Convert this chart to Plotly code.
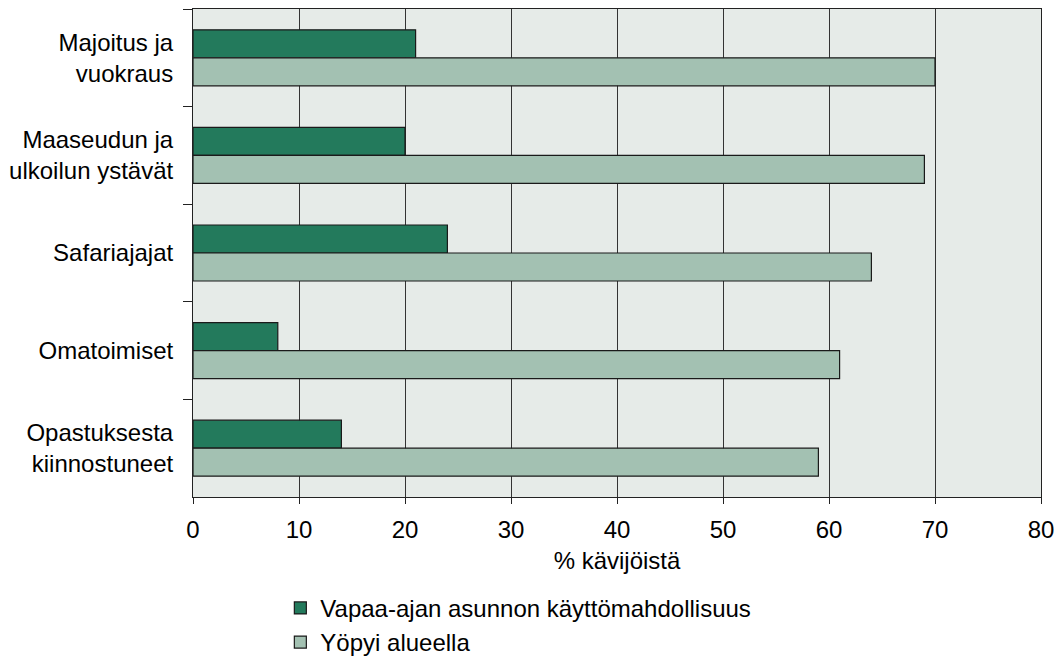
import plotly.graph_objects as go

categories = ["Majoitus ja<br>vuokraus", "Maaseudun ja<br>ulkoilun ystävät", "Safariajajat",
              "Omatoimiset", "Opastuksesta<br>kiinnostuneet"]
series_names = ["Vapaa-ajan asunnon käyttömahdollisuus", "Yöpyi alueella"]
vapaa_ajan = [21, 20, 24, 8, 14]
yopyi = [70, 69, 64, 61, 59]
x_ticks = [0, 10, 20, 30, 40, 50, 60, 70, 80]
x_title = "% kävijöistä"

FONT = "Arial, Liberation Sans, sans-serif"
dark = "#237a5c"
light = "#a3c1b2"
edge = "#1a1a1a"

fig = go.Figure()
fig.add_trace(go.Bar(y=categories, x=vapaa_ajan, orientation="h", name=series_names[0],
                     marker=dict(color=dark, line=dict(color=edge, width=1.2)),
                     legendgroup="a"))
fig.add_trace(go.Bar(y=categories, x=yopyi, orientation="h", name=series_names[1],
                     marker=dict(color=light, line=dict(color=edge, width=1.2)),
                     legendgroup="b"))

fig.update_layout(
    width=1054, height=659,
    margin=dict(l=193, r=13, t=9, b=162, autoexpand=False),
    paper_bgcolor="white", plot_bgcolor="#e6ebe8",
    barmode="group", bargap=0.426, bargroupgap=0,
    font=dict(family=FONT, size=24, color="black"),
    legend=dict(x=0.103, xanchor="left", y=-0.182, yanchor="top",
                traceorder="normal", tracegroupgap=11,
                font=dict(size=24), bgcolor="rgba(0,0,0,0)"),
    showlegend=True,
)
fig.update_xaxes(range=[0, 80], tickvals=x_ticks, ticks="outside", ticklen=6,
                 tickcolor="#222", showgrid=True, gridcolor="#333", gridwidth=1,
                 showline=True, linecolor="#222", linewidth=1, mirror=True,
                 zeroline=False, automargin=False, ticklabeloverflow="allow",
                 ticklabelstandoff=5,
                 title=dict(text=x_title, standoff=10, font=dict(size=24)),
                 tickfont=dict(size=24))
fig.update_yaxes(autorange="reversed", type="category", tickson="boundaries",
                 ticks="outside", ticklen=9, tickcolor="#222", showgrid=False,
                 showline=True, linecolor="#222", linewidth=1, mirror=True,
                 automargin=False, ticklabelstandoff=14, tickfont=dict(size=24))

fig.write_html("out.html", config={"displayModeBar": False},
               post_script="document.body.style.margin='0';document.body.style.overflow='hidden';")
